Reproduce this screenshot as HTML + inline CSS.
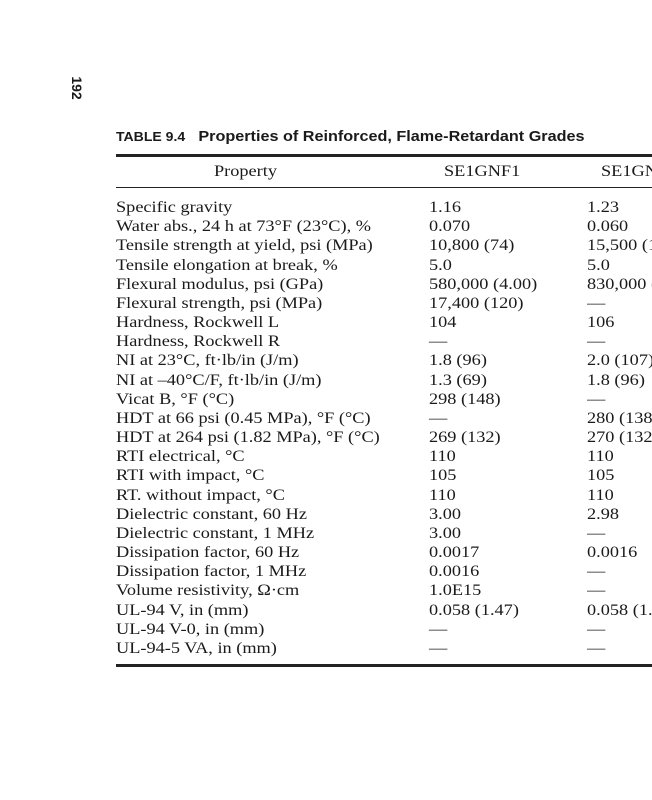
<!DOCTYPE html>
<html><head><style>
html,body{margin:0;width:652px;height:800px;overflow:hidden}
body{background:#fff;position:relative;font-family:"Liberation Serif",serif;color:#1a1a1a}
.pn{position:absolute;left:64px;top:80px;transform:rotate(90deg);transform-origin:center;font:bold 14px "Liberation Sans",sans-serif;width:26px;text-align:center}
.title{position:absolute;left:116px;top:128px;font:bold 15px "Liberation Sans",sans-serif;white-space:nowrap;transform:scaleX(1.08);transform-origin:left}
.title .t{font-size:13px;margin-right:8px}
.hr{position:absolute;left:116px;right:0;background:#222}
.c{position:absolute;white-space:nowrap;font-size:15.5px;line-height:19px;transform:scaleX(1.18);transform-origin:left}
.clip{position:absolute;left:587px;top:150px;width:65px;height:520px;overflow:hidden}
</style></head><body>
<div class="pn">192</div>
<div class="title"><span class="t">TABLE 9.4</span> Properties of Reinforced, Flame-Retardant Grades</div>
<div class="hr" style="top:154px;height:2.5px"></div>
<div class="hr" style="top:187px;height:1px"></div>
<div class="hr" style="top:664px;height:2.5px"></div>
<div class="c" style="left:214px;top:162px">Property</div>
<div class="c" style="left:444px;top:162px">SE1GNF1</div>
<div class="c" style="left:116px;top:198px;line-height:19.17px">Specific gravity<br>Water abs., 24 h at 73°F (23°C), %<br>Tensile strength at yield, psi (MPa)<br>Tensile elongation at break, %<br>Flexural modulus, psi (GPa)<br>Flexural strength, psi (MPa)<br>Hardness, Rockwell L<br>Hardness, Rockwell R<br>NI at 23°C, ft·lb/in (J/m)<br>NI at –40°C/F, ft·lb/in (J/m)<br>Vicat B, °F (°C)<br>HDT at 66 psi (0.45 MPa), °F (°C)<br>HDT at 264 psi (1.82 MPa), °F (°C)<br>RTI electrical, °C<br>RTI with impact, °C<br>RT. without impact, °C<br>Dielectric constant, 60 Hz<br>Dielectric constant, 1 MHz<br>Dissipation factor, 60 Hz<br>Dissipation factor, 1 MHz<br>Volume resistivity, Ω·cm<br>UL-94 V, in (mm)<br>UL-94 V-0, in (mm)<br>UL-94-5 VA, in (mm)</div>
<div class="c" style="left:429px;top:198px;line-height:19.17px">1.16<br>0.070<br>10,800 (74)<br>5.0<br>580,000 (4.00)<br>17,400 (120)<br>104<br>—<br>1.8 (96)<br>1.3 (69)<br>298 (148)<br>—<br>269 (132)<br>110<br>105<br>110<br>3.00<br>3.00<br>0.0017<br>0.0016<br>1.0E15<br>0.058 (1.47)<br>—<br>—</div>
<div class="clip">
<div class="c" style="left:14px;top:12px">SE1GNF2</div>
<div class="c" style="left:0;top:48px;line-height:19.17px">1.23<br>0.060<br>15,500 (107)<br>5.0<br>830,000 (5.72)<br>—<br>106<br>—<br>2.0 (107)<br>1.8 (96)<br>—<br>280 (138)<br>270 (132)<br>110<br>105<br>110<br>2.98<br>—<br>0.0016<br>—<br>—<br>0.058 (1.47)<br>—<br>—</div>
</div>
</body></html>
